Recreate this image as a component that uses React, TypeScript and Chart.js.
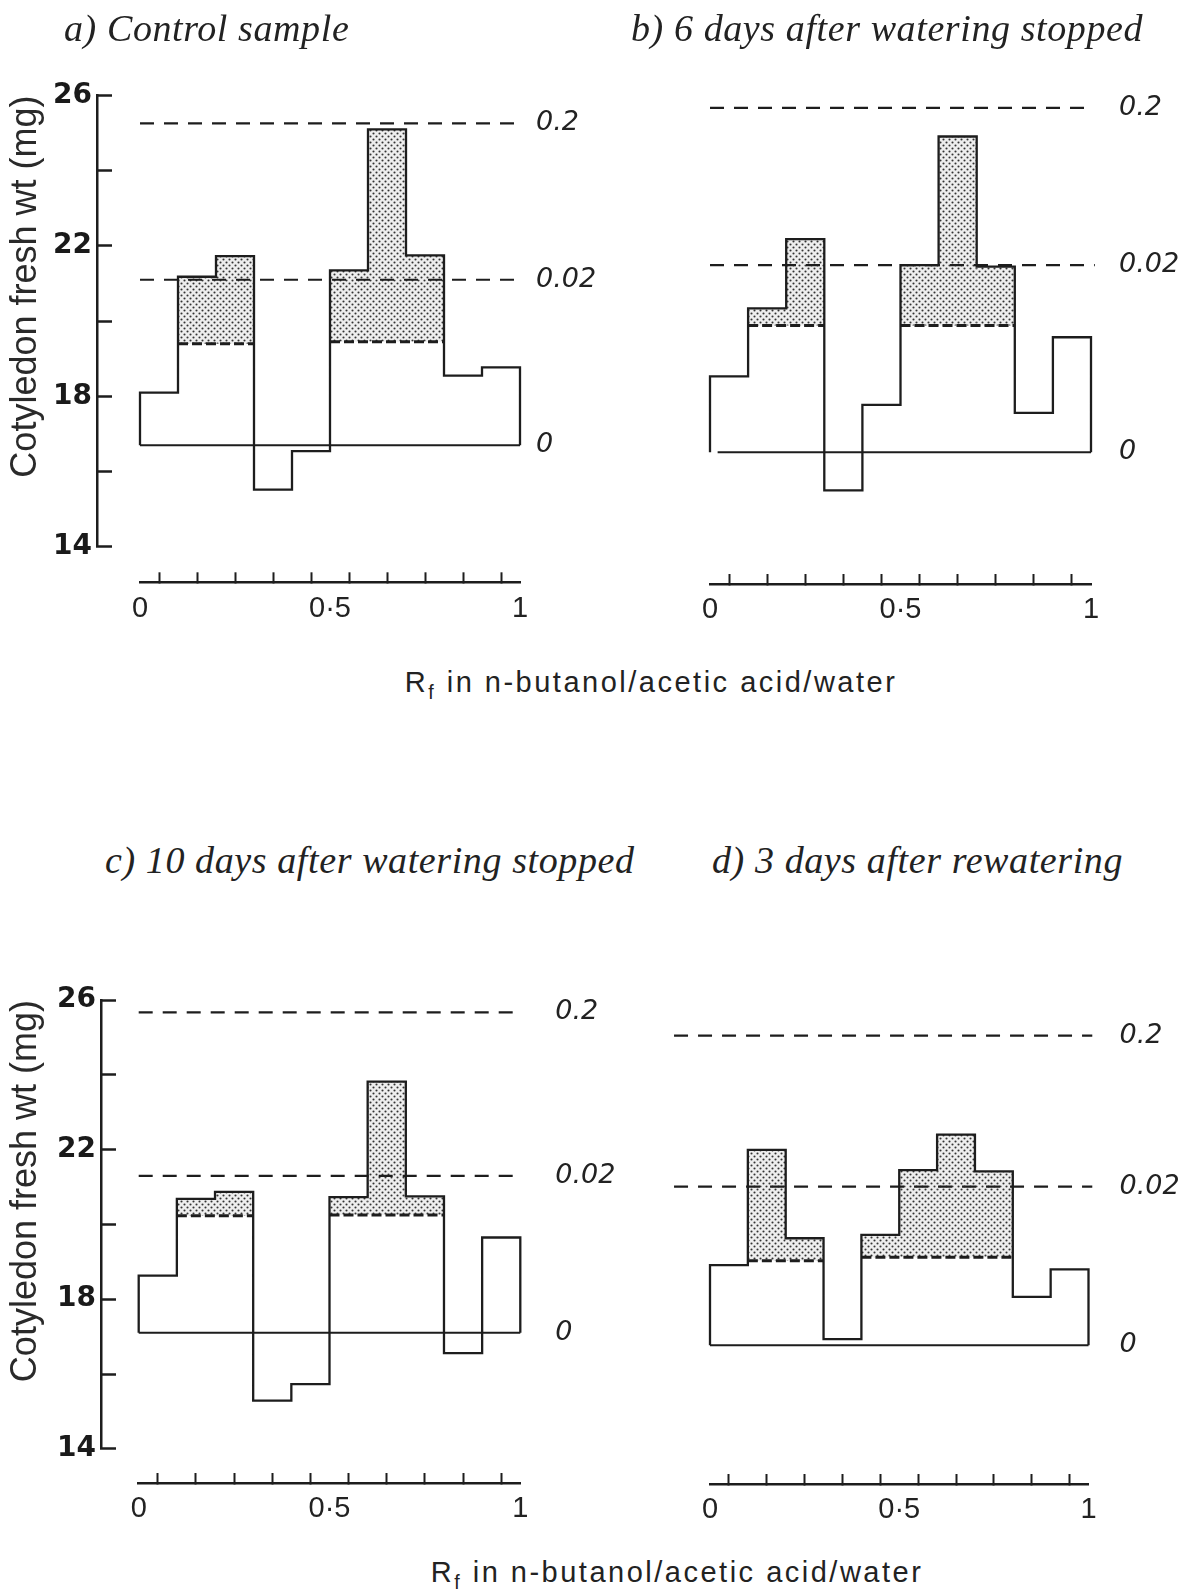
import React, { useEffect, useRef } from 'react';
import { Chart, registerables } from 'chart.js';

Chart.register(...registerables);

// ---------- shared axis data ----------
const rfEdges = [0, 0.1, 0.2, 0.3, 0.4, 0.5, 0.6, 0.7, 0.8, 0.9, 1];
const rfTickLabels = ['0', '', '', '', '', '0·5', '', '', '', '', '1'];
const weightTicks = [14, 16, 18, 20, 22, 24, 26];
const weightTickLabels = ['14', '', '18', '', '22', '', '26'];
const concLabels = ['0', '0.02', '0.2'];
const yAxisTitle = 'Cotyledon fresh wt (mg)';
const xAxisTitleMain = 'R';
const xAxisTitleSub = 'f';
const xAxisTitleRest = ' in n-butanol/acetic acid/water';
const panelTitles = [
  'a) Control sample',
  'b) 6 days after watering stopped',
  'c) 10 days after watering stopped',
  'd) 3 days after rewatering',
];

// ---------- a) control ----------
const aValues = [18.1, 21.18, 21.73, 15.52, 16.54, 21.35, 25.1, 21.75, 18.55, 18.77];
const aStippleBase = [null, 19.4, 19.4, null, null, 19.45, 19.45, 19.45, null, null];
const aConcLevels = [16.7, 21.1, 25.26];
const aConcStart = [0, 0, 0];
const aConcEnd = [1, 1, 1];

// ---------- b) 6 days ----------
const bValues = [18.53, 20.34, 22.18, 15.5, 17.77, 21.49, 24.91, 21.45, 17.56, 19.57];
const bStippleBase = [null, 19.88, 19.88, null, null, 19.88, 19.88, 19.88, null, null];
const bConcLevels = [16.51, 21.49, 25.67];
const bConcStart = [0.02, 0, 0];
const bConcEnd = [1, 1.01, 0.99];

// ---------- c) 10 days ----------
const cValues = [18.63, 20.68, 20.87, 15.29, 15.73, 20.73, 23.82, 20.75, 16.56, 19.65];
const cStippleBase = [null, 20.23, 20.23, null, null, 20.25, 20.25, 20.25, null, null];
const cConcLevels = [17.1, 21.3, 25.67];
const cConcStart = [0, 0, 0];
const cConcEnd = [1, 1, 1];

// ---------- d) rewatering ----------
const dValues = [18.91, 21.99, 19.63, 16.93, 19.72, 21.45, 22.4, 21.42, 18.06, 18.8];
const dStippleBase = [null, 19.03, 19.03, null, 19.12, 19.12, 19.12, 19.12, null, null];
const dConcLevels = [16.77, 21.01, 25.05];
const dConcStart = [0, -0.095, -0.095];
const dConcEnd = [1, 1.01, 1.01];

const INK = '#1d1d1d';

type PanelDef = {
  values: number[];
  stippleBase: (number | null)[];
  conc: number[];
  concStart: number[];
  concEnd: number[];
  showY: boolean;
  box: { left: number; top: number; width: number; height: number };
  plot: { left: number; right: number; top: number; bottom: number };
  yAxisX: number;
  xAxisY: number;
  labelGap: number;
};

const PANELS: PanelDef[] = [
  {
    values: aValues, stippleBase: aStippleBase, conc: aConcLevels, concStart: aConcStart, concEnd: aConcEnd,
    showY: true,
    box: { left: 0, top: 30, width: 640, height: 600 },
    plot: { left: 140, right: 520, top: 95.5, bottom: 546.7 },
    yAxisX: 97, xAxisY: 582.3, labelGap: 16,
  },
  {
    values: bValues, stippleBase: bStippleBase, conc: bConcLevels, concStart: bConcStart, concEnd: bConcEnd,
    showY: false,
    box: { left: 600, top: 30, width: 594, height: 600 },
    plot: { left: 710, right: 1091, top: 95.5, bottom: 546.7 },
    yAxisX: 700, xAxisY: 584, labelGap: 28,
  },
  {
    values: cValues, stippleBase: cStippleBase, conc: cConcLevels, concStart: cConcStart, concEnd: cConcEnd,
    showY: true,
    box: { left: 0, top: 900, width: 640, height: 640 },
    plot: { left: 138.7, right: 520.3, top: 1000, bottom: 1448.8 },
    yAxisX: 101, xAxisY: 1483, labelGap: 35,
  },
  {
    values: dValues, stippleBase: dStippleBase, conc: dConcLevels, concStart: dConcStart, concEnd: dConcEnd,
    showY: false,
    box: { left: 600, top: 900, width: 594, height: 640 },
    plot: { left: 710, right: 1088.5, top: 1000, bottom: 1448.8 },
    yAxisX: 700, xAxisY: 1484, labelGap: 31,
  },
];

function makeStipple(ctx: CanvasRenderingContext2D): CanvasPattern | string {
  const c = document.createElement('canvas');
  c.width = 6;
  c.height = 6;
  const g = c.getContext('2d');
  if (!g) return '#bbbbbb';
  g.fillStyle = '#eeeeee';
  g.fillRect(0, 0, 6, 6);
  g.fillStyle = '#333333';
  g.beginPath();
  g.arc(1.5, 1.5, 1.05, 0, Math.PI * 2);
  g.fill();
  g.beginPath();
  g.arc(4.5, 4.5, 1.05, 0, Math.PI * 2);
  g.fill();
  return ctx.createPattern(c, 'repeat') || '#bbbbbb';
}

function buildConfig(canvas: HTMLCanvasElement, p: PanelDef): any {
  const ctx = canvas.getContext('2d') as CanvasRenderingContext2D;
  const stipple = makeStipple(ctx);
  const base = p.conc[0];
  const last = rfEdges.length - 1;

  const outline: any[] = [{ x: rfEdges[0], y: base }];
  p.values.forEach((v, i) => {
    outline.push({ x: rfEdges[i], y: v }, { x: rfEdges[i + 1], y: v });
  });
  outline.push({ x: rfEdges[last], y: base });

  const bars: any[] = [];
  p.values.forEach((v, i) => {
    const b = p.stippleBase[i];
    if (b != null) bars.push({ x: (rfEdges[i] + rfEdges[i + 1]) / 2, y: [b, v] });
  });

  const floor: any[] = [];
  p.stippleBase.forEach((b, i) => {
    if (b == null) floor.push({ x: (rfEdges[i] + rfEdges[i + 1]) / 2, y: null });
    else floor.push({ x: rfEdges[i], y: b }, { x: rfEdges[i + 1], y: b });
  });

  const concSets = p.conc.map((lvl, k) => ({
    type: 'line',
    data: [
      { x: p.concStart[k], y: lvl },
      { x: p.concEnd[k], y: lvl },
    ],
    borderColor: INK,
    borderWidth: k === 0 ? 2 : 2.2,
    borderDash: k === 0 ? [] : [14, 10],
    pointRadius: 0,
    fill: false,
    clip: false,
    order: 3,
    xAxisID: 'x',
    yAxisID: 'y',
  }));

  const yAxisW = p.showY ? p.yAxisX - p.box.left : 0;
  const padLeft = p.showY ? 0 : p.plot.left - p.box.left;
  const yGap = p.plot.left - p.yAxisX;
  const padTop = p.plot.top - p.box.top;
  const xGap = p.xAxisY - p.plot.bottom;
  const xAxisH = p.box.top + p.box.height - p.xAxisY;
  const rightW = p.box.left + p.box.width - p.plot.right;

  const scales: any = {
    x: {
      type: 'linear',
      position: 'bottom',
      weight: 1,
      min: 0,
      max: 1,
      offset: false,
      afterBuildTicks: (s: any) => {
        s.ticks = rfEdges.map((v) => ({ value: v }));
      },
      afterFit: (s: any) => {
        s.height = xAxisH;
      },
      grid: { display: true, drawOnChartArea: false, drawTicks: true, tickLength: -10, tickWidth: 2, tickColor: INK },
      border: { display: true, width: 2.5, color: INK },
      ticks: {
        autoSkip: false,
        maxRotation: 0,
        padding: 19,
        color: '#222',
        font: { family: '"Liberation Sans", Arial, sans-serif', size: 29 },
        callback: (_v: any, i: number) => rfTickLabels[i],
      },
    },
    xs: {
      type: 'linear',
      position: 'bottom',
      weight: 0,
      display: true,
      grid: { display: false, drawTicks: false },
      border: { display: false },
      ticks: { display: false },
      afterFit: (s: any) => {
        s.height = xGap;
      },
    },
    y: {
      type: 'linear',
      position: 'left',
      weight: 1,
      min: 14,
      max: 26,
      display: p.showY,
      afterBuildTicks: (s: any) => {
        s.ticks = weightTicks.map((v) => ({ value: v }));
      },
      afterFit: (s: any) => {
        s.width = yAxisW;
      },
      grid: { display: true, drawOnChartArea: false, drawTicks: true, tickLength: -15, tickWidth: 2.5, tickColor: INK },
      border: { display: true, width: 2.5, color: INK },
      ticks: {
        autoSkip: false,
        padding: 20,
        color: '#1a1a1a',
        font: { family: '"DejaVu Sans", sans-serif', size: 28, weight: 'bold' },
        callback: (_v: any, i: number) => weightTickLabels[i],
      },
      title: {
        display: true,
        text: yAxisTitle,
        align: 'end',
        color: '#2a2a2a',
        font: { family: '"Liberation Sans", Arial, sans-serif', size: 36 },
        padding: { top: 4, bottom: 0 },
      },
    },
    yr: {
      type: 'linear',
      position: 'right',
      min: 14,
      max: 26,
      display: true,
      afterBuildTicks: (s: any) => {
        s.ticks = p.conc.map((v) => ({ value: v }));
      },
      afterFit: (s: any) => {
        s.width = rightW;
      },
      grid: { display: false, drawTicks: false },
      border: { display: false },
      ticks: {
        autoSkip: false,
        padding: p.labelGap,
        color: '#222',
        font: { family: '"DejaVu Sans", sans-serif', size: 27, style: 'italic' },
        callback: (_v: any, i: number) => concLabels[i],
      },
    },
  };
  if (p.showY) {
    scales.ys = {
      type: 'linear',
      position: 'left',
      weight: 0,
      display: true,
      grid: { display: false, drawTicks: false },
      border: { display: false },
      ticks: { display: false },
      afterFit: (s: any) => {
        s.width = yGap;
      },
    };
  }

  return {
    type: 'line',
    data: {
      datasets: [
        {
          type: 'bar',
          data: bars,
          backgroundColor: stipple,
          borderWidth: 0,
          barPercentage: 1,
          categoryPercentage: 1,
          grouped: false,
          inflateAmount: 0,
          order: 10,
          xAxisID: 'x',
          yAxisID: 'y',
        },
        {
          type: 'line',
          data: outline,
          borderColor: INK,
          borderWidth: 2.3,
          pointRadius: 0,
          fill: false,
          tension: 0,
          order: 1,
          clip: false,
          xAxisID: 'x',
          yAxisID: 'y',
        },
        {
          type: 'line',
          data: floor,
          borderColor: INK,
          borderWidth: 3,
          borderDash: [10, 4],
          pointRadius: 0,
          fill: false,
          spanGaps: false,
          order: 2,
          xAxisID: 'x',
          yAxisID: 'y',
        },
        ...concSets,
      ],
    },
    options: {
      animation: false,
      responsive: false,
      maintainAspectRatio: false,
      events: [],
      layout: { padding: { left: padLeft, top: padTop, right: 0, bottom: 0 } },
      plugins: {
        legend: { display: false },
        tooltip: { enabled: false },
        title: { display: false },
      },
      scales,
    },
  };
}

function Panel({ p }: { p: PanelDef }) {
  const ref = useRef<HTMLCanvasElement>(null);
  useEffect(() => {
    const canvas = ref.current;
    if (!canvas) return;
    const chart = new Chart(canvas, buildConfig(canvas, p));
    return () => chart.destroy();
  }, [p]);
  return (
    <canvas
      ref={ref}
      width={p.box.width}
      height={p.box.height}
      style={{ position: 'absolute', left: p.box.left, top: p.box.top, width: p.box.width, height: p.box.height }}
    />
  );
}

const titleBase: React.CSSProperties = {
  position: 'absolute',
  fontFamily: '"Liberation Serif", "DejaVu Serif", serif',
  fontStyle: 'italic',
  fontSize: 38,
  letterSpacing: '0.6px',
  lineHeight: '44px',
  color: '#222',
  whiteSpace: 'nowrap',
};

const xTitleBase: React.CSSProperties = {
  position: 'absolute',
  transform: 'translateX(-50%)',
  fontFamily: '"Liberation Sans", Arial, sans-serif',
  fontSize: 29,
  letterSpacing: '2.5px',
  lineHeight: '34px',
  color: '#222',
  whiteSpace: 'nowrap',
};

function XTitle({ cx, cy }: { cx: number; cy: number }) {
  return (
    <div style={{ ...xTitleBase, left: cx, top: cy - 17 }}>
      {xAxisTitleMain}
      <span style={{ fontSize: '0.68em', position: 'relative', top: '0.35em' }}>{xAxisTitleSub}</span>
      {xAxisTitleRest}
    </div>
  );
}

export default function App() {
  return (
    <div
      style={{
        position: 'absolute',
        left: 0,
        top: 0,
        width: 1194,
        height: 1596,
        background: '#ffffff',
        overflow: 'hidden',
      }}
    >
      {PANELS.map((p, i) => (
        <Panel key={i} p={p} />
      ))}
      <div style={{ ...titleBase, left: 64, top: 6 }}>{panelTitles[0]}</div>
      <div style={{ ...titleBase, left: 631, top: 6 }}>{panelTitles[1]}</div>
      <div style={{ ...titleBase, left: 105, top: 838 }}>{panelTitles[2]}</div>
      <div style={{ ...titleBase, left: 712, top: 838 }}>{panelTitles[3]}</div>
      <XTitle cx={651} cy={682} />
      <XTitle cx={677} cy={1572} />
    </div>
  );
}
